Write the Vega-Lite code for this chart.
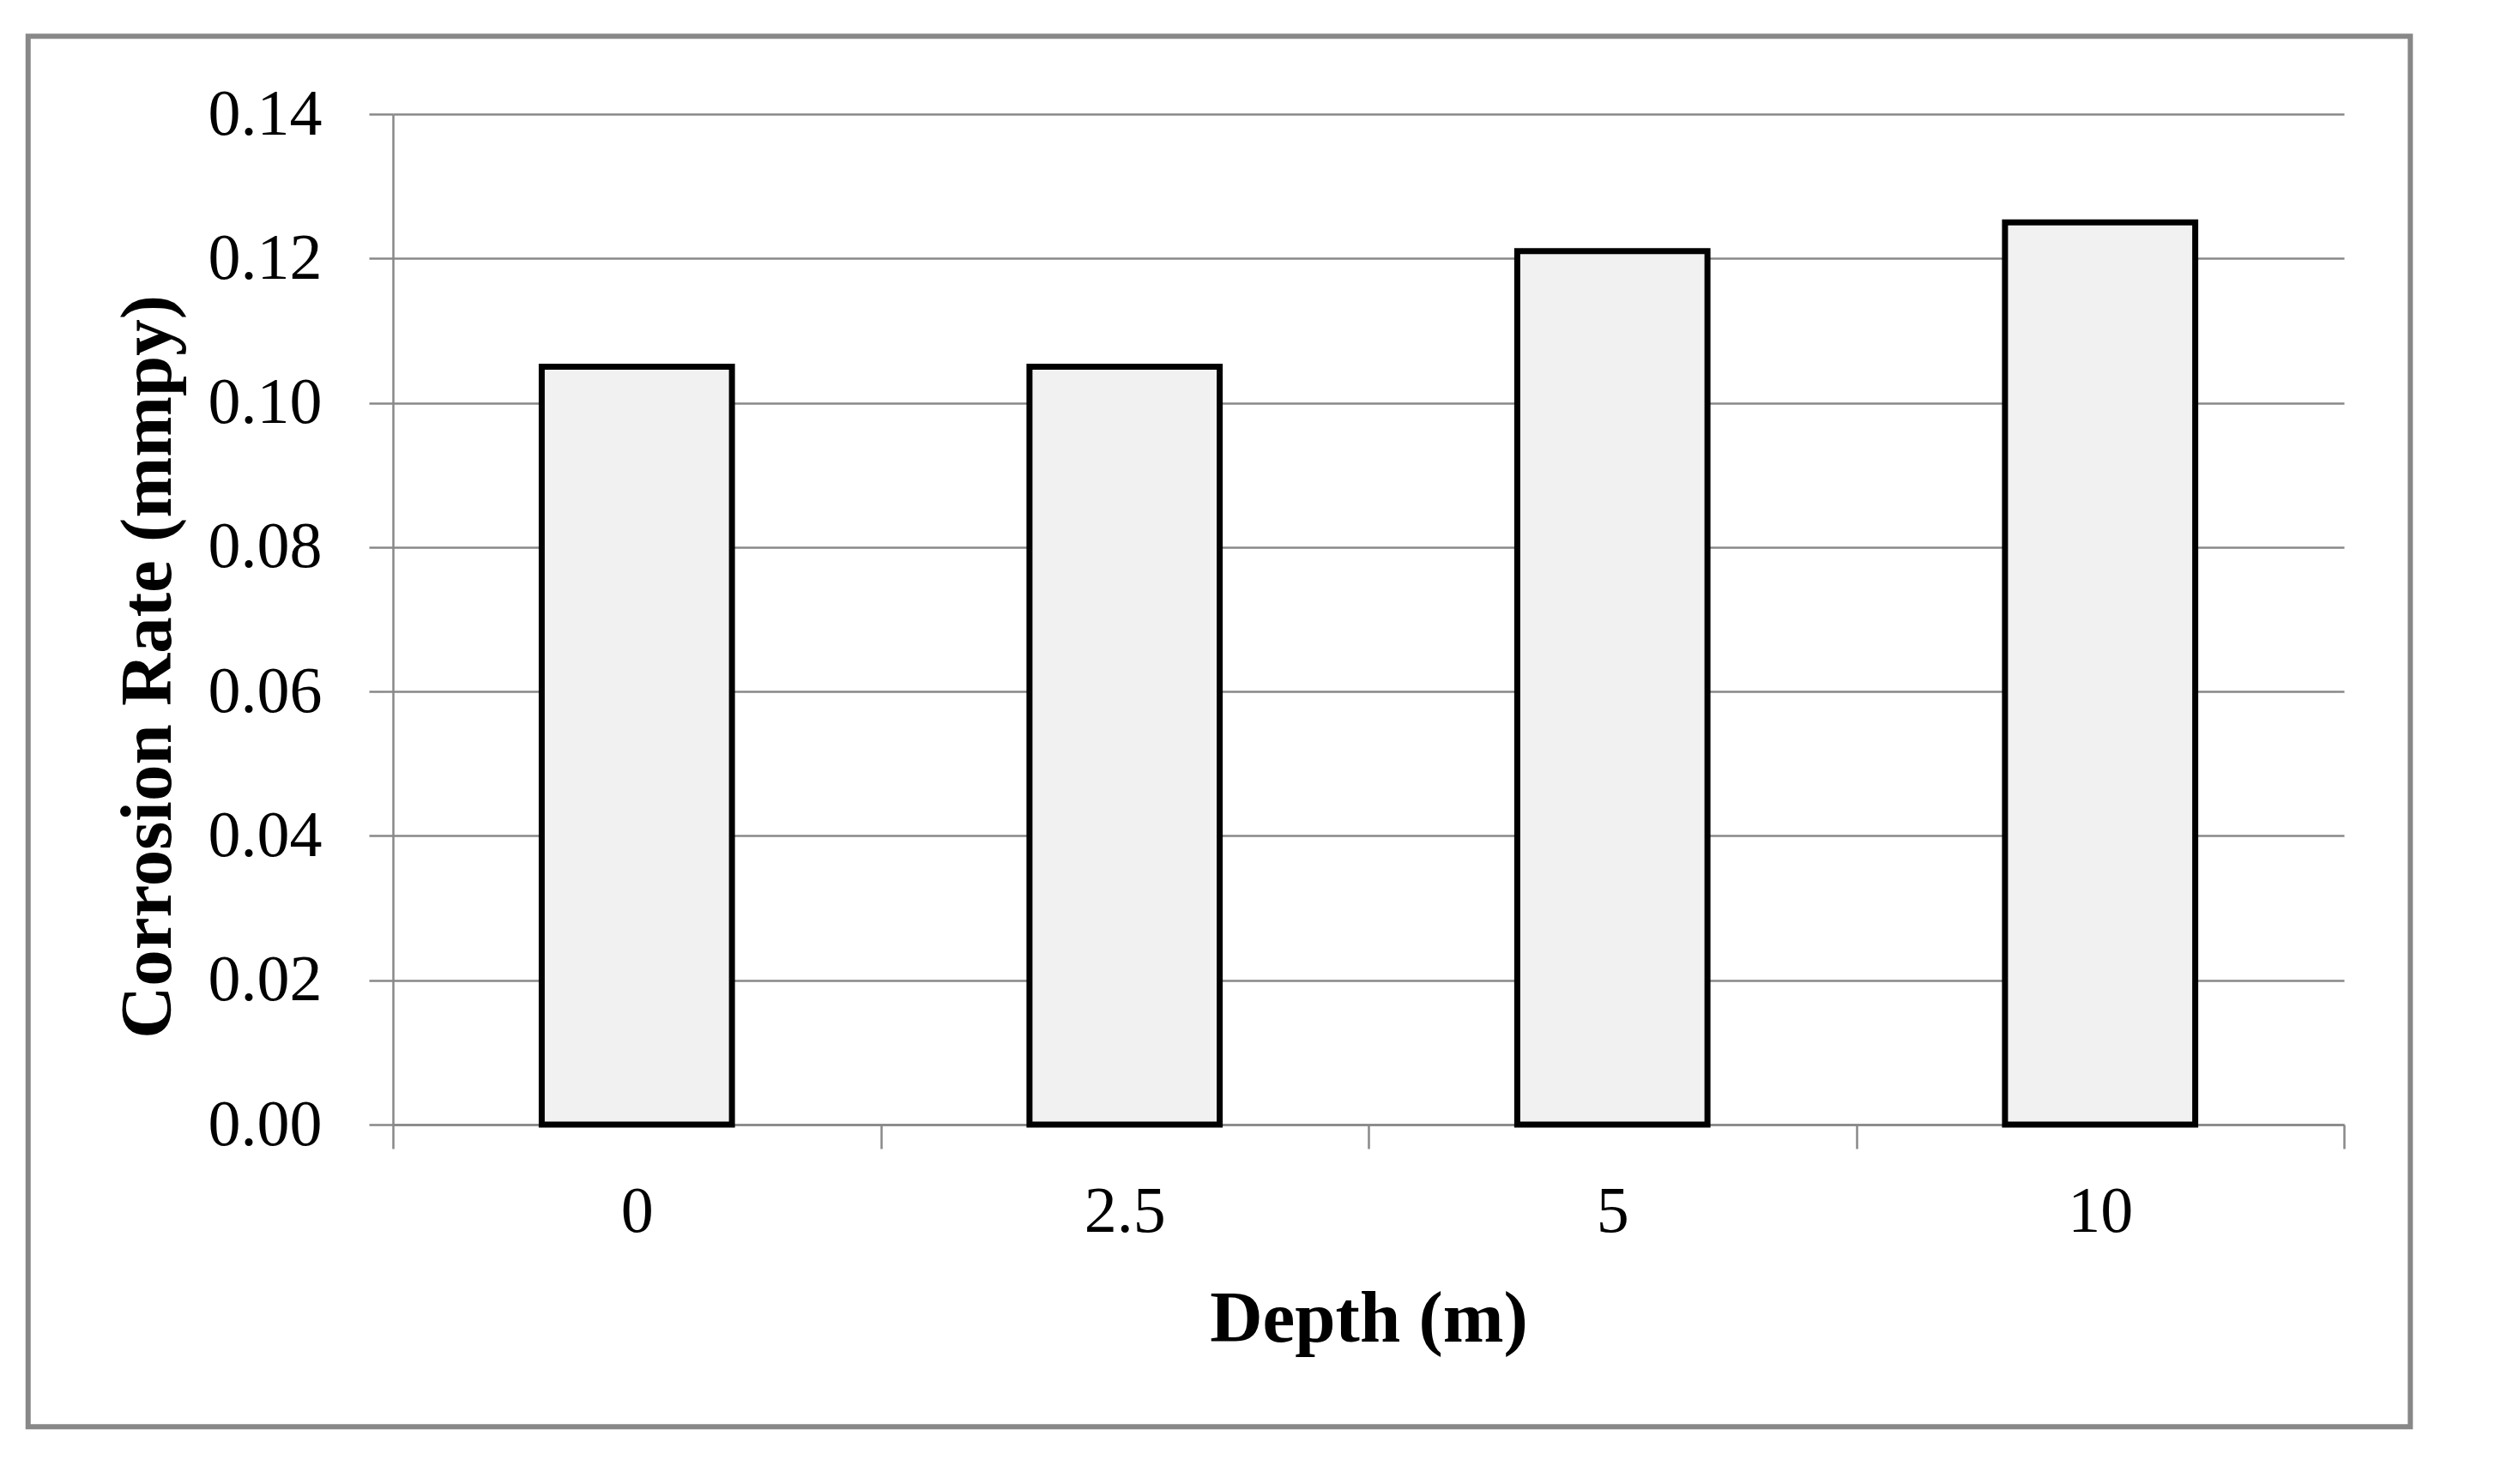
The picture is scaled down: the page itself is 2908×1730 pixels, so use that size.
{
  "$schema": "https://vega.github.io/schema/vega-lite/v6.json",
  "width": 2274,
  "height": 1178,
  "autosize": {"type": "none"},
  "padding": {"left": 458, "top": 133, "right": 176, "bottom": 419},
  "background": "white",
  "config": {"view": {"stroke": null}, "font": "Liberation Serif"},
  "resolve": {"scale": {"x": "independent", "y": "independent"}, "axis": {"x": "independent", "y": "independent"}},
  "layer": [
    {
      "data": {"values": [{"frame": "chart area"}]},
      "mark": {"type": "rect", "fill": null, "stroke": "#888888", "strokeWidth": 6},
      "encoding": {
        "x": {"datum": -0.187, "type": "quantitative", "scale": {"domain": [0, 1]}, "axis": null},
        "x2": {"datum": 1.034},
        "y": {"datum": 1.077, "type": "quantitative", "scale": {"domain": [0, 1]}, "axis": null},
        "y2": {"datum": -0.299}
      }
    },
    {
      "data": {"values": [
        {"depth": "0", "rate": 0.105},
        {"depth": "2.5", "rate": 0.105},
        {"depth": "5", "rate": 0.121},
        {"depth": "10", "rate": 0.125}
      ]},
      "mark": {"type": "bar", "width": {"band": 0.39}, "fill": "#f1f1f1", "stroke": "black", "strokeWidth": 7},
      "encoding": {
        "x": {
          "field": "depth", "type": "nominal", "sort": null,
          "scale": {"paddingInner": 0, "paddingOuter": 0},
          "axis": {
            "title": "Depth (m)", "tickBand": "extent", "labelAngle": 0, "grid": false,
            "domainColor": "#888888", "domainWidth": 2.5,
            "tickColor": "#888888", "tickWidth": 2.5, "tickSize": 28,
            "labelFont": "Liberation Serif", "labelFontSize": 76, "labelColor": "black", "labelPadding": 36,
            "titleFont": "Liberation Serif", "titleFontSize": 85, "titleFontWeight": "bold", "titleColor": "black", "titlePadding": 46
          }
        },
        "y": {
          "field": "rate", "type": "quantitative",
          "scale": {"domain": [0, 0.14]},
          "axis": {
            "title": "Corrosion Rate (mmpy)",
            "values": [0, 0.02, 0.04, 0.06, 0.08, 0.1, 0.12, 0.14],
            "format": ".2f", "grid": true, "gridColor": "#888888", "gridWidth": 2.5,
            "domainColor": "#888888", "domainWidth": 2.5,
            "tickColor": "#888888", "tickWidth": 2.5, "tickSize": 28,
            "labelFont": "Liberation Serif", "labelFontSize": 76, "labelColor": "black", "labelPadding": 55,
            "titleFont": "Liberation Serif", "titleFontSize": 85, "titleFontWeight": "bold", "titleColor": "black", "titlePadding": 42, "titleY": 644
          }
        }
      }
    }
  ]
}
